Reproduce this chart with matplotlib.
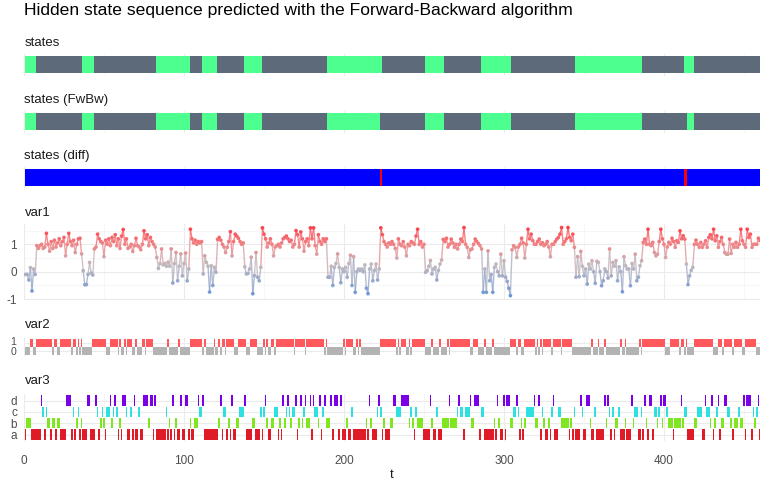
import numpy as np
import matplotlib
matplotlib.use('Agg')
import matplotlib.pyplot as plt
from matplotlib.collections import LineCollection
from matplotlib.colors import LinearSegmentedColormap, Normalize

plt.rcParams['font.family'] = ['Liberation Sans', 'DejaVu Sans']
plt.rcParams['axes.unicode_minus'] = False

# ---------------- data ----------------
title = "Hidden state sequence predicted with the Forward-Backward algorithm"

# hidden states as run-length encoding (1 = green state, 2 = dark state)
states_run_values = [1, 2] * 10
states_run_lengths = [7, 29, 7, 39, 21, 8, 9, 17, 11, 41, 34, 27, 12, 23, 19, 40, 42, 26, 6, 42]
fwbw_run_values = [1, 2] * 10
fwbw_run_lengths = [7, 29, 7, 39, 21, 8, 9, 17, 11, 41, 33, 28, 12, 23, 19, 40, 42, 28, 4, 42]

var1 = [
    -0.1, -0.1, -0.3, 0.15, -0.7, 0.1, -0.1, 0.95, 0.85, 0.95,
    1.0, 0.85, 0.9, 1.4, 1.0, 0.75, 1.1, 0.85, 1.15, 0.9,
    1.05, 1.2, 0.95, 1.1, 1.25, 0.58, 1.0, 1.4, 1.1, 0.95,
    1.15, 0.7, 1.0, 1.2, 1.22, 0.65, 0.04, -0.47, -0.47, -0.1,
    0.34, -0.05, -0.12, 0.83, 0.9, 1.37, 1.2, 1.1, 1.05, 0.55,
    1.15, 1.0, 1.2, 0.95, 1.25, 1.1, 1.35, 0.95, 1.2, 0.85,
    1.3, 1.54, 1.0, 1.2, 0.85, 0.9, 1.0, 0.74, 0.95, 1.22,
    0.95, 0.9, 0.8, 1.0, 1.49, 1.2, 1.35, 0.95, 1.25, 1.1,
    1.0, 0.9, 0.52, 0.12, 0.3, 0.83, 0.25, 0.3, 0.2, 0.35,
    0.2, 0.83, -0.41, 0.3, 0.7, -0.33, 0.2, 0.65, -0.15, 0.3,
    0.68, -0.33, 0.1, 1.55, 1.2, 1.05, 1.15, 1.0, 1.1, 1.05,
    1.1, -0.08, 0.58, 0.34, 0.2, -0.74, 0.22, -0.5, 0.16, -0.02,
    1.18, 1.25, 1.15, 1.0, 0.9, 0.7, 0.89, 1.1, 1.46, 0.58,
    1.1, 1.37, 1.3, 1.22, 1.1, 1.0, 1.05, 0.18, -0.08, -0.06,
    0.1, 0.53, -0.8, -0.14, 0.7, -0.2, -0.33, 0.16, 1.6, 1.37,
    1.2, 0.9, 1.05, 1.2, 1.0, 0.58, 0.9, 0.95, 1.0, 0.9,
    1.05, 1.2, 1.25, 1.3, 1.2, 1.1, 1.15, 0.9, 1.0, 1.5,
    1.35, 0.9, 1.45, 1.2, 0.75, 1.1, 1.2, 0.95, 1.6, 1.2,
    1.6, 0.95, 0.64, 1.35, 1.1, 1.0, 1.2, 1.1, 1.2, -0.2,
    -0.2, 0.2, -0.5, 0.16, 0.3, 0.65, 0.16, -0.4, 0.1, 0.0,
    0.16, -0.2, 0.3, 0.6, -0.5, 0.55, -0.75, 0.0, 0.1, 0.05,
    0.1, 0.0, 0.25, -0.6, -0.8, 0.1, 0.28, -0.33, 0.05, 0.28,
    -0.3, 0.1, 1.6, 1.35, 1.1, 1.0, 0.9, 1.05, 1.0, 1.1,
    1.0, 0.85, 0.5, 1.2, 1.0, 0.95, 1.1, 0.9, 0.58, 1.0,
    0.95, 1.1, 1.05, 1.0, 1.3, 1.55, 1.0, 1.1, 0.9, 1.0,
    -0.02, 0.04, 0.2, 0.41, -0.08, 0.1, 0.16, -0.3, 0.05, 0.28,
    0.43, 1.18, 1.1, 1.22, 0.9, 1.0, 1.19, 1.05, 0.89, 1.0,
    0.83, 1.0, 1.19, 1.1, 1.61, 1.0, 0.89, 0.52, 0.8, 0.83,
    1.0, 1.19, 1.1, 1.03, 0.95, 0.83, -0.75, 0.1, -0.75, 0.76,
    -0.33, -0.1, -0.75, 0.16, 0.28, 0.0, -0.15, 0.64, -0.15, 0.4,
    -0.2, -0.35, -0.6, -0.87, 0.8, 0.95, 0.89, 0.52, 0.9, 1.0,
    1.22, 1.05, 0.5, 1.0, 1.55, 1.2, 1.37, 1.13, 1.0, 1.0,
    1.1, 1.19, 1.0, 1.06, 0.95, 1.0, 1.1, 0.9, 0.55, 1.0,
    1.0, 1.1, 1.19, 1.25, 1.37, 1.61, 1.0, 1.1, 1.2, 1.61,
    1.25, 1.13, 1.37, 0.89, -0.2, 0.55, -0.18, 0.74, 0.2, -0.15,
    0.1, -0.45, 0.28, 0.1, 0.4, 0.0, -0.42, 0.38, 0.34, 0.0,
    -0.51, -0.33, 0.1, 0.0, -0.23, 0.83, -0.15, 0.34, 0.2, 0.4,
    -0.33, 0.18, 0.0, -0.73, 0.55, 0.22, 0.1, 0.1, -0.51, 0.3,
    0.1, 0.64, -0.33, -0.2, 0.22, 0.4, 1.07, 1.19, 1.0, 1.55,
    1.0, 0.95, 1.07, 0.7, 0.58, 0.64, 1.1, 1.55, 1.2, 1.0,
    0.52, 0.9, 1.07, 1.0, 1.22, 1.1, 0.89, 1.13, 1.07, 1.49,
    1.2, 1.31, 1.19, 0.28, -0.47, -0.15, 0.05, 0.16, 1.0, 1.15,
    1.0, 0.89, 1.07, 0.89, 1.0, 1.13, 0.89, 1.25, 1.35, 1.2,
    1.55, 1.13, 1.31, 0.89, 1.1, 1.25, 1.0, 0.7, 0.64, 0.64,
    1.19, 0.67, 1.0, 0.89, 1.07, 0.89, 1.0, 1.55, 1.13, 1.0,
    0.89, 1.55, 1.25, 1.37, 0.89, 1.0, 1.0, 1.0, 1.22, 1.13,
]

# var2: time ranges (inclusive) where var2 == 1, elsewhere 0
var2_one_runs = [
    (4, 5), (8, 17), (19, 20), (23, 29), (31, 32), (34, 34), (36, 36), (43, 51),
    (54, 58), (60, 60), (63, 63), (65, 67), (70, 70), (74, 75), (77, 80), (90, 90),
    (97, 97), (104, 111), (113, 113), (119, 119), (122, 122), (124, 125), (127, 131),
    (134, 138), (142, 145), (150, 150), (152, 152), (155, 156), (158, 168), (170, 175),
    (177, 187), (189, 189), (200, 200), (202, 205), (208, 208), (210, 210), (223, 232),
    (234, 234), (236, 238), (241, 241), (243, 250), (255, 255), (260, 260), (265, 265),
    (267, 278), (281, 283), (288, 288), (293, 293), (304, 307), (309, 310), (313, 319),
    (321, 321), (323, 323), (325, 329), (331, 335), (337, 342), (355, 355), (359, 359),
    (363, 363), (373, 373), (376, 376), (385, 385), (387, 400), (404, 409), (411, 412),
    (414, 414), (419, 430), (434, 436), (438, 442), (444, 448), (451, 457),
]
var2_levels = ['0', '1']

# var3: one category per time step
var3 = (
    "abbbaaaaaa" "dcacbbabba" "bbaaaaddda" "cabcabaaad" "daaadcabcb"
    "accdbcdcab" "addcaacada" "acaadddbdd" "adaaaaaaca" "badabaadaa"
    "ddabaabbdc" "cdaaaaaaaa" "abdaccabad" "aabbcccdaa" "aabbaaacac"
    "dbaabbccab" "adbcdcbccd" "abdbcdbbda" "dccbdacdbb" "bdadddadaa"
    "abaacaaaaa" "aaabadbaaa" "cdcabaaabb" "ddcccddddd" "bcbacbbbba"
    "aaadbaacaa" "abbbbdbbbb" "cdccacccdb" "bdddaccaaa" "aaabadbaad"
    "addbbccdca" "babcccccdb" "bdacbaabac" "daaccbbbbb" "abacaaadca"
    "addbaacaaa" "aadbdcacab" "bcaaabaaad" "bccaacadba" "ddaccbcdbd"
    "dcbbbabbbb" "dbccaaaabb" "cccaadccbd" "abcdabbddc" "cbabbbcbbd"
    "adddacbcda"
)
var3_levels = ['a', 'b', 'c', 'd']

x_ticks = [0, 100, 200, 300, 400]

# ---------------- styling ----------------
state_colors = {1: '#4cff8f', 2: '#5c6a7a'}
diff_colors = {False: '#0000ff', True: '#ff0000'}
var2_colors = {'0': '#b3b3b3', '1': '#ff585d'}
var3_colors = {'a': '#df1b27', 'b': '#7fe61f', 'c': '#2fe0e0', 'd': '#7a00e6'}
grid_major = '#ebebeb'
grid_minor = '#f3f3f3'
tick_color = '#4d4d4d'
TICK_FS = 8.5

W, H = 768, 480
XL, XR = 24, 760
fig = plt.figure(figsize=(W / 100, H / 100), dpi=100)


def add_ax(top, bottom):
    ax = fig.add_axes([XL / W, 1 - bottom / H, (XR - XL) / W, (bottom - top) / H])
    ax.set_xlim(0, 460)
    for s in ax.spines.values():
        s.set_visible(False)
    ax.set_facecolor('white')
    ax.tick_params(length=0, colors=tick_color, labelsize=TICK_FS, pad=5)
    ax.set_xticks(x_ticks)
    ax.set_xticks([50, 150, 250, 350, 450], minor=True)
    ax.tick_params(axis='x', which='both', labelbottom=False)
    ax.tick_params(which='minor', length=0)
    ax.grid(True, which='major', color=grid_major, linewidth=0.8, zorder=0)
    ax.grid(True, which='minor', color=grid_minor, linewidth=0.5, zorder=0)
    ax.set_axisbelow(True)
    return ax


def expand_runs(values, lengths):
    out = []
    for v, n in zip(values, lengths):
        out.extend([v] * n)
    return out


def runs_of(seq):
    runs = []
    start = 0
    for i in range(1, len(seq) + 1):
        if i == len(seq) or seq[i] != seq[start]:
            runs.append((start + 1, i - start, seq[start]))
            start = i
    return runs


def label(text, baseline):
    fig.text(24.5 / W, 1 - baseline / H, text, fontsize=9.5, color='#1a1a1a', va='baseline', ha='left')


states = expand_runs(states_run_values, states_run_lengths)
fwbw = expand_runs(fwbw_run_values, fwbw_run_lengths)
diff = [a != b for a, b in zip(states, fwbw)]
n = len(var1)
t = np.arange(1, n + 1)
var2 = ['0'] * n
for a, b in var2_one_runs:
    for k in range(a, b + 1):
        var2[k - 1] = '1'

fig.text(24.5 / W, 1 - 15.5 / H, title, fontsize=12.6, color='black', va='baseline', ha='left')

# state panels
for seq, cmap_, top, bot, lab, base in [
    (states, state_colors, 53.5, 75.5, 'states', 46.5),
    (fwbw, state_colors, 110.5, 132.5, 'states (FwBw)', 102.5),
    (diff, diff_colors, 166.5, 188.5, 'states (diff)', 159.5),
]:
    ax = add_ax(top, bot)
    ax.set_ylim(-0.66, 0.66)
    ax.set_yticks([])
    ax.grid(False, axis='y')
    for st, ln, v in runs_of(seq):
        ax.broken_barh([(st - 0.5, ln)], (-0.5, 1), facecolors=cmap_[v], linewidth=0, zorder=2)
    label(lab, base)

# var1
cmap = LinearSegmentedColormap.from_list(
    'v1', [(0.0, '#6b96d8'), (0.45, '#c2b9be'), (0.75, '#ef8486'), (1.0, '#fc404b')])
norm = Normalize(vmin=min(var1), vmax=max(var1))
ax = add_ax(224, 300)
ax.set_ylim(-1.03, 1.74)
ax.set_yticks([-1, 0, 1])
ax.set_yticks([-0.5, 0.5, 1.5], minor=True)
v = np.array(var1)
pts = np.column_stack([t, v])
segs = np.stack([pts[:-1], pts[1:]], axis=1)
lc = LineCollection(segs, colors=cmap(norm((v[:-1] + v[1:]) / 2)), linewidths=1.0, alpha=0.8, zorder=2)
ax.add_collection(lc)
ax.scatter(t, v, c=v, cmap=cmap, norm=norm, s=7, linewidths=0, zorder=3)
label('var1', 215.5)

# var2
ax = add_ax(338, 356)
ax.set_ylim(-0.6, 1.6)
ax.set_yticks([0, 1])
ax.set_yticklabels([])
for st, ln, val in runs_of(var2):
    y = var2_levels.index(val)
    ax.broken_barh([(st - 0.5, ln)], (y - 0.47, 0.94), facecolors=var2_colors[val], linewidth=0, zorder=2)
# level labels placed just above / below the boundary between the two rows
ax.text(-8 / 1.6, 0.5, var2_levels[1], fontsize=7.6, color=tick_color, ha='right', va='bottom')
ax.text(-8 / 1.6, 0.5, var2_levels[0], fontsize=7.6, color=tick_color, ha='right', va='top')
label('var2', 328)

# var3
ax = add_ax(393.7, 441.3)
ax.set_ylim(-0.6, 3.6)
ax.set_yticks(range(len(var3_levels)))
ax.set_yticklabels(var3_levels)
for st, ln, val in runs_of(list(var3)):
    y = var3_levels.index(val)
    ax.broken_barh([(st - 0.5, ln)], (y - 0.47, 0.94), facecolors=var3_colors[val], linewidth=0, zorder=2)
ax.tick_params(axis='x', which='major', labelbottom=True, pad=10)
label('var3', 384.5)

fig.text(392 / W, 1 - 478 / H, 't', fontsize=9.5, color='#1a1a1a', ha='center', va='baseline')

assert len(var1) == 460 and len(var3) == 460 and len(states) == 460 and len(fwbw) == 460
fig.savefig('out.png', dpi=100, facecolor='white')
